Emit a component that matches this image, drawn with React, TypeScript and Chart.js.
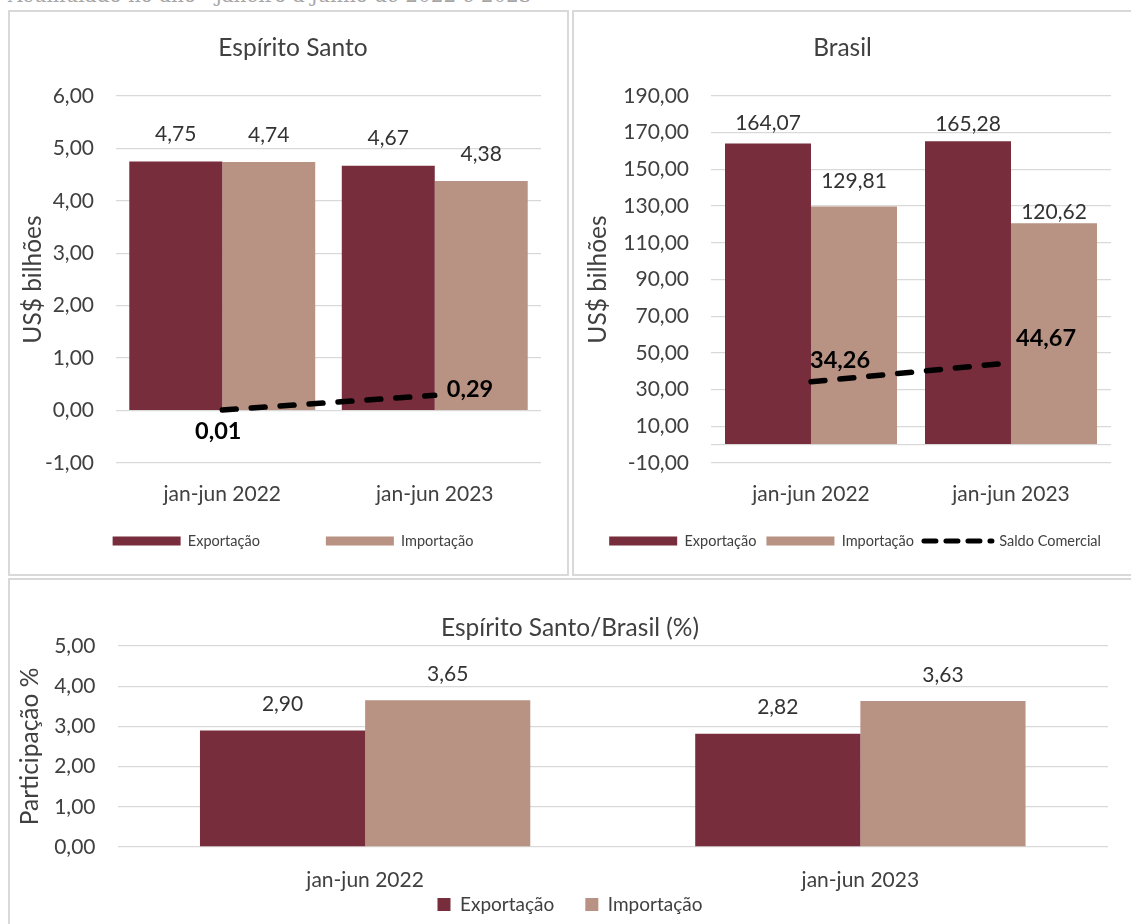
import React, { useEffect, useRef } from 'react';
import { Chart, registerables } from 'chart.js';

Chart.register(...registerables);
Chart.defaults.font.family = "Lato, 'Noto Sans', sans-serif";
Chart.defaults.color = '#404040';

// ---------- data ----------
const periods = ['jan-jun 2022', 'jan-jun 2023'];
const esExport = [4.75, 4.67];
const esImport = [4.74, 4.38];
const esBalance = [0.01, 0.29];
const brExport = [164.07, 165.28];
const brImport = [129.81, 120.62];
const brBalance = [34.26, 44.67];
const shareExport = [2.9, 2.82];
const shareImport = [3.65, 3.63];
const esTicks = [-1, 0, 1, 2, 3, 4, 5, 6];
const brTicks = [-10, 10, 30, 50, 70, 90, 110, 130, 150, 170, 190];
const shareTicks = [0, 1, 2, 3, 4, 5];

// ---------- styles ----------
const EXP = '#772d3b';
const IMP = '#b89282';
const TXT = '#404040';
const GRID = '#d9d9d9';
const TICK_SIZE = 21;
const TITLE_SIZE = 24.5;

const fmt = (v: number) => Number(v).toFixed(2).replace('.', ',');

const valueLabels = {
  id: 'valueLabels',
  afterDatasetsDraw(chart: any, _args: any, opts: any) {
    const ctx = chart.ctx;
    ctx.save();
    chart.data.datasets.forEach((ds: any, i: number) => {
      const meta = chart.getDatasetMeta(i);
      if (meta.hidden) return;
      meta.data.forEach((el: any, j: number) => {
        const text = fmt(ds.data[j]);
        ctx.textBaseline = 'middle';
        if (meta.type === 'line') {
          const p = opts.linePlacement[j];
          ctx.font = `bold ${opts.boldSize}px Lato, sans-serif`;
          ctx.fillStyle = '#000';
          ctx.textAlign = p.align;
          ctx.fillText(text, el.x + p.dx, el.y + p.dy);
        } else {
          const lift = Array.isArray(opts.lift) ? opts.lift[i][j] : opts.lift;
          ctx.font = `${opts.size}px Lato, sans-serif`;
          ctx.fillStyle = '#333333';
          ctx.textAlign = 'center';
          ctx.fillText(text, el.x, el.y - lift);
        }
      });
    });
    ctx.restore();
  },
};

function barSet(label: string, data: number[], color: string, cat: number) {
  return {
    label,
    data,
    backgroundColor: color,
    borderWidth: 0,
    categoryPercentage: cat,
    barPercentage: 1,
    pointStyle: 'rect',
    order: 0,
  };
}

function lineSet(data: number[]) {
  return {
    type: 'line',
    label: 'Saldo Comercial',
    data,
    borderColor: '#000',
    backgroundColor: '#000',
    borderWidth: 5.5,
    borderDash: [14, 15],
    borderCapStyle: 'round',
    pointRadius: 0,
    pointHoverRadius: 0,
    pointStyle: 'line',
    order: -1,
  };
}

function topLegend(padding: number, align: string, showLine: boolean) {
  return {
    position: 'bottom',
    align,
    labels: {
      usePointStyle: true,
      pointStyleWidth: 68,
      boxHeight: 9,
      padding,
      color: TXT,
      font: { size: 14.5 },
      filter: (item: any) => showLine || item.datasetIndex !== 2,
      sort: (a: any, b: any) => a.datasetIndex - b.datasetIndex,
      generateLabels: (chart: any) =>
        (Chart.defaults.plugins.legend.labels as any).generateLabels(chart).map((it: any) =>
          it.datasetIndex === 2
            ? { ...it, pointStyle: 'line', lineDash: [12, 10], lineWidth: 5, lineCap: 'round', strokeStyle: '#000' }
            : { ...it, pointStyle: 'rect', lineWidth: 0 }
        ),
    },
  };
}

function yAxis(ticks: number[], title: string, width: number, titleShift: number) {
  return {
    min: ticks[0],
    max: ticks[ticks.length - 1],
    afterBuildTicks: (s: any) => {
      const vals = ticks.includes(0) ? ticks : [...ticks, 0].sort((a, b) => a - b);
      s.ticks = vals.map((v) => ({ value: v }));
    },
    afterFit: (s: any) => {
      s.width = width;
    },
    ticks: {
      padding: 22,
      color: TXT,
      font: { size: TICK_SIZE },
      callback: (v: any) => (ticks.includes(Number(v)) ? fmt(Number(v)) : ''),
    },
    grid: { color: GRID, lineWidth: 1.3, drawTicks: false },
    border: { display: false },
    title: {
      display: true,
      text: title,
      color: TXT,
      font: { size: TITLE_SIZE },
      padding: { top: titleShift, bottom: 0 },
    },
  };
}

// labels centred "gap" px below the plot; mirror keeps them unclipped when the axis box is thin
function xAxis(height: number, gap: number) {
  const half = (TICK_SIZE * 1.2) / 2;
  return {
    grid: { display: false, drawTicks: false },
    border: { display: false },
    ticks: { mirror: true, padding: -(gap + half), color: TXT, font: { size: TICK_SIZE } },
    afterFit: (s: any) => {
      s.height = height;
    },
  };
}

function esConfig(): any {
  return {
    type: 'bar',
    data: {
      labels: periods,
      datasets: [
        barSet('Exportação', esExport, EXP, 0.875),
        barSet('Importação', esImport, IMP, 0.875),
        lineSet(esBalance),
      ],
    },
    options: {
      animation: false,
      responsive: true,
      maintainAspectRatio: false,
      layout: { padding: { left: 35, right: 26, top: 0, bottom: 15.75 } },
      scales: {
        x: xAxis(4.75, 31),
        y: yAxis(esTicks, 'US$ bilhões', 71, -26.7),
      },
      plugins: {
        title: {
          display: true,
          text: 'Espírito Santo',
          color: TXT,
          font: { size: TITLE_SIZE, weight: 'normal' },
          padding: { top: 21.3, bottom: 33.3 },
        },
        legend: topLegend(66, 'center', false),
        tooltip: { enabled: false },
        valueLabels: {
          size: TICK_SIZE,
          boldSize: 23.5,
          lift: 27,
          linePlacement: [
            { dx: -4, dy: 21, align: 'center' },
            { dx: 12, dy: -6, align: 'left' },
          ],
        },
      },
    },
    plugins: [valueLabels],
  };
}

function brConfig(): any {
  return {
    type: 'bar',
    data: {
      labels: periods,
      datasets: [
        barSet('Exportação', brExport, EXP, 0.86),
        barSet('Importação', brImport, IMP, 0.86),
        lineSet(brBalance),
      ],
    },
    options: {
      animation: false,
      responsive: true,
      maintainAspectRatio: false,
      layout: { padding: { left: 0, right: 20, top: 0, bottom: 15.75 } },
      scales: {
        x: xAxis(60.75, 31),
        y: yAxis(brTicks, 'US$ bilhões', 137, 9.3),
      },
      plugins: {
        title: {
          display: true,
          text: 'Brasil',
          color: TXT,
          font: { size: TITLE_SIZE, weight: 'normal' },
          padding: { top: 21.3, bottom: 33.3 },
        },
        legend: topLegend(10, 'end', true),
        tooltip: { enabled: false },
        valueLabels: {
          size: TICK_SIZE,
          boldSize: 23.5,
          lift: [
            [20.5, 17],
            [25, 11],
          ],
          linePlacement: [
            { dx: -1, dy: -21, align: 'left' },
            { dx: 5, dy: -24, align: 'left' },
          ],
        },
      },
    },
    plugins: [valueLabels],
  };
}

function shareConfig(): any {
  return {
    type: 'bar',
    data: {
      labels: periods,
      datasets: [
        barSet('Exportação', shareExport, EXP, 0.667),
        barSet('Importação', shareImport, IMP, 0.667),
      ],
    },
    options: {
      animation: false,
      responsive: true,
      maintainAspectRatio: false,
      layout: { padding: { left: 22, right: 23, top: 0, bottom: 0 } },
      scales: {
        x: xAxis(17, 33),
        y: yAxis(shareTicks, 'Participação %', 85.5, -16.7),
      },
      plugins: {
        title: {
          display: true,
          text: 'Espírito Santo/Brasil (%)',
          color: TXT,
          font: { size: TITLE_SIZE, weight: 'normal' },
          padding: { top: 33.3, bottom: 3.3 },
        },
        legend: {
          position: 'bottom',
          labels: {
            boxWidth: 13,
            boxHeight: 13,
            padding: 31,
            color: TXT,
            font: { size: 19 },
          },
        },
        tooltip: { enabled: false },
        valueLabels: { size: TICK_SIZE, boldSize: 23.5, lift: 26, linePlacement: [] },
      },
    },
    plugins: [valueLabels],
  };
}

function ChartBox({ make, width, height }: { make: () => any; width: number; height: number }) {
  const ref = useRef<HTMLCanvasElement>(null);
  useEffect(() => {
    const chart = new Chart(ref.current as HTMLCanvasElement, make());
    return () => chart.destroy();
  }, []);
  return (
    <div style={{ position: 'relative', width, height }}>
      <canvas ref={ref} />
    </div>
  );
}

const panelStyle = (left: number, top: number, width: number, height: number): React.CSSProperties => ({
  position: 'absolute',
  left,
  top,
  width,
  height,
  boxSizing: 'border-box',
  border: `2px solid ${GRID}`,
  background: '#fff',
});

export default function App() {
  return (
    <div
      style={{
        position: 'absolute',
        left: 0,
        top: 0,
        width: 1131,
        height: 924,
        overflow: 'hidden',
        background: '#fff',
      }}
    >
      <div
        style={{
          position: 'absolute',
          left: 8,
          top: -17,
          fontFamily: "'DejaVu Serif', serif",
          fontSize: 20,
          color: '#a6a6a6',
          whiteSpace: 'nowrap',
        }}
      >
        Acumulado no ano - janeiro a junho de 2022 e 2023
      </div>
      <div style={panelStyle(8, 10, 561, 566)}>
        <ChartBox make={esConfig} width={557} height={562} />
      </div>
      <div style={panelStyle(572, 10, 561, 566)}>
        <ChartBox make={brConfig} width={557} height={562} />
      </div>
      <div style={panelStyle(8, 578, 1125, 350)}>
        <ChartBox make={shareConfig} width={1121} height={344} />
      </div>
    </div>
  );
}
